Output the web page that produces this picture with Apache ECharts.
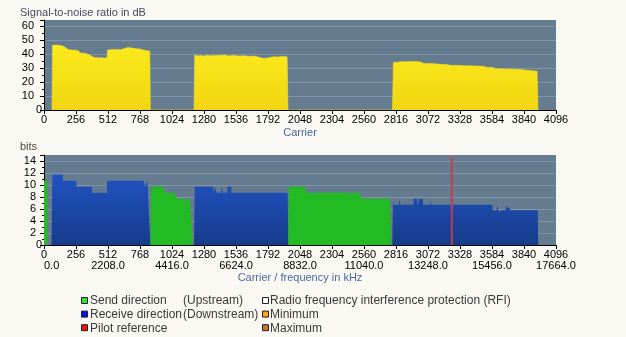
<!DOCTYPE html>
<html>
<head>
<meta charset="utf-8">
<title>DSL spectrum</title>
<style>
  html, body { margin: 0; padding: 0; background: #f9f8f3; }
  #chart { width: 626px; height: 337px; }
</style>
<script src="https://cdn.jsdelivr.net/npm/echarts@6/dist/echarts.min.js"></script>
</head>
<body>
<div id="chart"></div>
<script>
// Signal-to-noise ratio per carrier, dB  ([carrier, dB])
const snrBand1 = [[64,0],[68,46.2],[100,46.4],[130,46.0],[152,45.7],[170,44.6],[192,43.2],[220,42.9],[256,42.7],[275,42.3],[290,40.8],[320,40.5],[340,40.1],[360,39.5],[380,38.6],[400,37.5],[430,37.4],[460,37.3],[486,37.0],[500,37.6],[506,37.6],[508,42.9],[540,43.1],[580,43.3],[610,43.0],[646,44.0],[672,44.6],[700,44.3],[739,43.7],[770,43.5],[792,42.9],[820,42.4],[846,42.0],[851,0]];
const snrBand2 = [[1200,0],[1206,39.5],[1230,38.6],[1250,39.0],[1280,38.4],[1300,39.2],[1330,38.7],[1360,39.0],[1400,38.9],[1440,39.3],[1480,38.6],[1520,39.0],[1560,38.5],[1600,38.7],[1640,38.2],[1680,38.5],[1720,37.7],[1750,36.9],[1780,37.0],[1810,37.5],[1840,38.1],[1870,37.8],[1900,38.3],[1945,38.0],[1952,0]];
const snrBand3 = [[2788,0],[2795,34.0],[2810,34.6],[2830,34.2],[2860,34.5],[2900,34.4],[2940,34.6],[2980,34.6],[3019,34.1],[3040,33.3],[3100,33.2],[3139,32.9],[3170,32.6],[3220,32.5],[3246,32.0],[3280,31.8],[3320,31.9],[3360,31.5],[3400,31.7],[3450,31.4],[3512,31.2],[3540,30.5],[3590,30.4],[3608,29.5],[3700,29.3],[3780,29.2],[3792,28.7],[3850,28.5],[3862,27.8],[3945,27.6],[3952,0]];

// Bit loading per carrier ([carrier, bits])
const upstreamBits = [[0,0],[0,10.7],[26,10.7],[28,0],
  [852,0],[858,9.7],[958,9.7],[960,8.7],[1040,8.7],[1043,8.0],[1050,8.0],[1052,8.7],[1058,8.7],[1062,7.7],[1126,7.7],[1130,6.9],[1140,6.9],[1143,7.7],[1166,7.7],[1192,0],
  [1955,0],[1960,9.7],[2091,9.7],[2093,8.7],[2459,8.7],[2461,8.0],[2470,8.0],[2472,8.7],[2531,8.7],[2533,7.7],[2768,7.7],[2780,0]];
const downstreamBits = [[60,0],[67,11.7],[152,11.7],[152,10.7],[259,10.7],[259,9.7],[384,9.7],[384,8.7],[504,8.7],[504,10.7],[798,10.7],[806,9.7],[822,9.7],[828,10.7],[842,10.7],[851,0],
  [1200,0],[1206,9.7],[1352,9.7],[1354,8.7],[1364,8.7],[1367,9.7],[1377,9.7],[1380,8.7],[1418,8.7],[1420,9.7],[1430,9.7],[1433,8.7],[1466,8.7],[1468,9.7],[1498,9.7],[1500,8.7],[1950,8.7],[1954,0],
  [2786,0],[2792,7.7],[2796,6.7],[2840,6.7],[2842,7.7],[2850,7.7],[2852,6.7],[2955,6.7],[2957,7.7],[2985,7.7],[2987,6.7],[3000,6.7],[3002,7.7],[3030,7.7],[3032,6.7],[3092,6.7],[3094,7.7],[3098,7.7],[3100,6.7],[3587,6.7],[3589,5.8],[3622,5.8],[3625,6.7],[3638,6.7],[3641,5.4],[3652,5.4],[3654,5.8],[3692,5.8],[3695,6.7],[3702,6.7],[3705,6.2],[3724,6.2],[3727,5.8],[3950,5.8],[3954,0]];

// Pilot tone carrier and the bar height it is drawn to
const pilotCarrier = 3262;
const pilotTop = 14.55;

// Frequency labels under every second carrier tick (kHz)
const freqLabels = ['0.0','2208.0','4416.0','6624.0','8832.0','11040.0','13248.0','15456.0','17664.0'];

// Legend rows: [colour, name, direction, column, row]
const legendItems = [
  ['#33e633', 'Send direction', '(Upstream)', 0, 0],
  ['#0a14e6', 'Receive direction', '(Downstream)', 0, 1],
  ['#ee1111', 'Pilot reference', '', 0, 2],
  ['#ffffff', 'Radio frequency interference protection (RFI)', '', 1, 0],
  ['#ffa21a', 'Minimum', '', 1, 1],
  ['#c0762c', 'Maximum', '', 1, 2]
];

const FONT = '"Liberation Sans", Arial, sans-serif';
const PLOT_BG = '#657b8f';
const GRID_LINE = '#8195a7';

const snrData = snrBand1.concat(snrBand2, snrBand3);

function xAxisBase(grid) {
  return {
    type: 'value', gridIndex: grid, min: 0, max: 4096, interval: 256,
    axisLine: { show: true, onZero: false, lineStyle: { color: '#000', width: 1 } },
    axisTick: { show: true, length: 4, lineStyle: { color: '#000', width: 1 } },
    axisLabel: { color: '#000', fontSize: 11, fontFamily: FONT, margin: 4, formatter: v => String(v) },
    splitLine: { show: false }
  };
}

function yAxisBase(grid, max, interval, pad) {
  return {
    type: 'value', gridIndex: grid, min: 0, max: max, interval: interval,
    axisLine: { show: true, lineStyle: { color: '#000', width: 1 } },
    axisTick: { show: true, length: 4, lineStyle: { color: '#000', width: 1 } },
    minorTick: { show: true, splitNumber: 2, length: 2, lineStyle: { color: '#000', width: 1 } },
    axisLabel: {
      showMaxLabel: false, margin: 2,
      formatter: v => v === 0 ? '{z|0}' : '{n|' + v + '}',
      rich: {
        z: { color: '#000', fontSize: 11, fontFamily: FONT },
        n: { color: '#000', fontSize: 11, fontFamily: FONT, padding: [0, pad, 0, 0] }
      }
    },
    splitLine: { show: true, showMaxLine: false, showMinLine: false, lineStyle: { color: GRID_LINE, width: 1 } }
  };
}

const legendGraphics = [];
legendItems.forEach(([color, name, dir, col, row]) => {
  const y = 301 + row * 13.6;
  const sx = col === 0 ? 81.5 : 262.5;
  const tx = col === 0 ? 90 : 270;
  legendGraphics.push({
    type: 'rect', shape: { x: sx, y: y - 3.5, width: 6, height: 6 },
    style: { fill: color, stroke: '#222', lineWidth: 1 }
  });
  legendGraphics.push({
    type: 'text', x: tx, y: y,
    style: { text: name, fill: '#3a3a3a', font: '12px ' + FONT, verticalAlign: 'middle', align: 'left' }
  });
  if (dir) {
    legendGraphics.push({
      type: 'text', x: 183, y: y,
      style: { text: dir, fill: '#3a3a3a', font: '12px ' + FONT, verticalAlign: 'middle', align: 'left' }
    });
  }
});

const chart = echarts.init(document.getElementById('chart'), null, { renderer: 'canvas' });

chart.setOption({
  backgroundColor: '#f9f8f3',
  animation: false,
  grid: [
    { left: 44, top: 20, width: 512, height: 90, show: true, backgroundColor: PLOT_BG, borderWidth: 0, outerBoundsMode: 'none' },
    { left: 44, top: 155, width: 512, height: 90, show: true, backgroundColor: PLOT_BG, borderWidth: 0, outerBoundsMode: 'none' }
  ],
  xAxis: [
    Object.assign(xAxisBase(0), {
      name: 'Carrier', nameLocation: 'middle', nameGap: 17,
      nameTextStyle: { color: '#4465a0', fontSize: 11, fontFamily: FONT }
    }),
    xAxisBase(1),
    {
      type: 'value', gridIndex: 1, min: 0, max: 4096, interval: 512, position: 'bottom', offset: 11,
      axisLine: { show: false }, axisTick: { show: false }, splitLine: { show: false },
      axisLabel: {
        color: '#000', fontSize: 11, fontFamily: FONT, margin: 4, alignMinLabel: 'left',
        formatter: v => freqLabels[Math.round(v / 512)]
      },
      name: 'Carrier / frequency in kHz', nameLocation: 'middle', nameGap: 16,
      nameTextStyle: { color: '#4a68a0', fontSize: 11, fontFamily: FONT }
    }
  ],
  yAxis: [
    yAxisBase(0, 64.3, 10, 8),
    yAxisBase(1, 15, 2, 6)
  ],
  graphic: [
    { type: 'text', x: 20, y: 13, style: { text: 'Signal-to-noise ratio in dB', fill: '#434b62', font: '11px ' + FONT, verticalAlign: 'middle' } },
    { type: 'text', x: 20, y: 147, style: { text: 'bits', fill: '#54483e', font: '11px ' + FONT, verticalAlign: 'middle' } }
  ].concat(legendGraphics),
  series: [
    {
      name: 'Signal-to-noise ratio', type: 'line', xAxisIndex: 0, yAxisIndex: 0,
      data: snrData, symbol: 'none', silent: true,
      lineStyle: { width: 0.6, color: '#f6e11a' },
      areaStyle: {
        opacity: 1,
        color: new echarts.graphic.LinearGradient(0, 0, 0, 1, [
          { offset: 0, color: '#fbea1d' }, { offset: 1, color: '#f1d511' }
        ])
      }
    },
    {
      name: 'Receive direction (Downstream)', type: 'line', xAxisIndex: 1, yAxisIndex: 1,
      data: downstreamBits, symbol: 'none', silent: true,
      lineStyle: { width: 0 },
      areaStyle: {
        opacity: 1,
        color: new echarts.graphic.LinearGradient(0, 0, 0, 1, [
          { offset: 0, color: '#2152c2' }, { offset: 1, color: '#163d8a' }
        ])
      }
    },
    {
      name: 'Send direction (Upstream)', type: 'line', xAxisIndex: 1, yAxisIndex: 1,
      data: upstreamBits, symbol: 'none', silent: true,
      lineStyle: { width: 0 },
      areaStyle: { opacity: 1, color: '#23bb23' }
    },
    {
      name: 'Pilot reference', type: 'line', xAxisIndex: 1, yAxisIndex: 1,
      data: [[pilotCarrier, 0], [pilotCarrier, pilotTop]], symbol: 'none', silent: true,
      lineStyle: { width: 2, color: '#c43c48' }
    }
  ]
});
</script>
</body>
</html>
